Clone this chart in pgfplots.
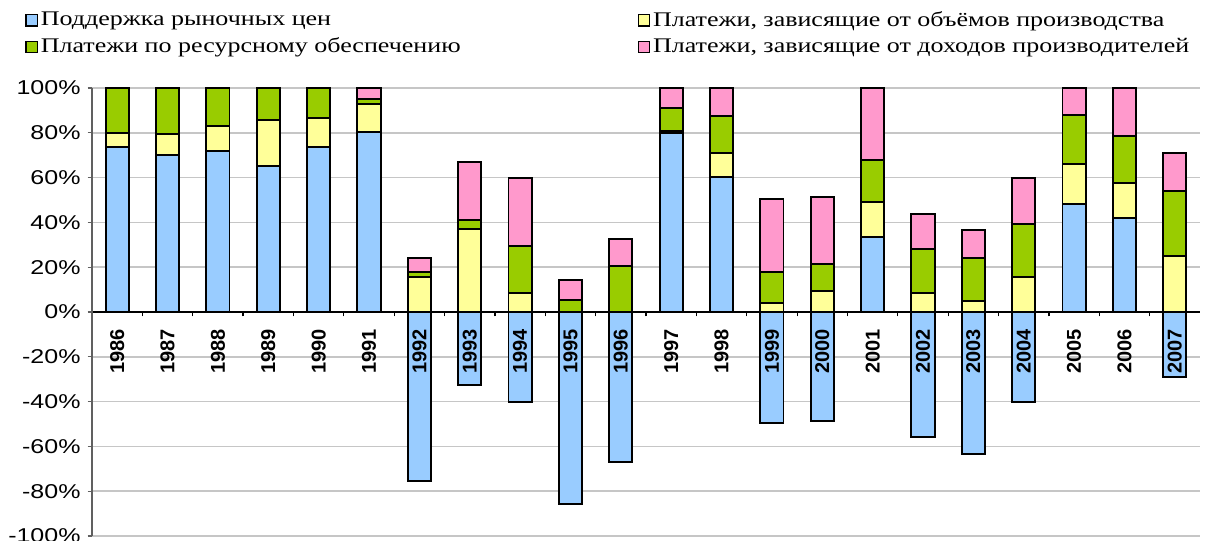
\documentclass[border=0pt]{standalone}
\usepackage{fontspec}
\setmainfont{Liberation Sans}
\newfontfamily\legfont{Liberation Serif}[FakeStretch=1.25]
\newfontfamily\tickfont{Liberation Sans}[FakeStretch=1.25]
\usepackage{pgfplots}
\usepackage{pgfplotstable}
\pgfplotsset{compat=1.18}

\definecolor{cblue}{HTML}{99CCFF}
\definecolor{cyellow}{HTML}{FFFF99}
\definecolor{cgreen}{HTML}{99CC00}
\definecolor{cpink}{HTML}{FF99CC}

% shares, %; blue split into positive and negative parts
\pgfplotstableread{
idx year bluep bluen yellow green pink
0  1986 73.7   0    6.3  20.0  0
1  1987 69.9   0    9.4  20.7  0
2  1988 71.7   0   11.3  17.0  0
3  1989 65.3   0   20.3  14.4  0
4  1990 73.7   0   12.8  13.5  0
5  1991 80.2   0   12.5   2.3  5.0
6  1992  0   -75.4 15.8   2.2  6.3
7  1993  0   -32.6 37.2   3.9 25.9
8  1994  0   -40.0  8.5  21.1 30.2
9  1995  0   -85.7  0     5.4  8.7
10 1996  0   -67.1  0    20.4 12.3
11 1997 80.0   0    0.8  10.1  9.1
12 1998 60.4   0   10.4  16.8 12.4
13 1999  0   -49.7  3.9  13.8 32.7
14 2000  0   -48.8  9.4  11.9 30.0
15 2001 33.5   0   15.6  18.8 32.1
16 2002  0   -55.8  8.3  19.7 15.8
17 2003  0   -63.5  4.8  19.5 12.3
18 2004  0   -40.3 15.8  23.3 20.9
19 2005 48.4   0   17.8  21.7 12.1
20 2006 42.1   0   15.6  20.9 21.4
21 2007  0   -28.9 25.1  28.9 16.8
}\support

\pgfplotsset{
  frame/.style={
    at={(46pt,2pt)}, anchor=south west,
    scale only axis, width=554pt, height=224pt,
    xmin=-0.5, xmax=21.5, ymin=-100, ymax=100,
  },
}

\begin{document}
\begin{tikzpicture}
\useasboundingbox (0,0) rectangle (604pt,270pt);

\begin{axis}[
  frame,
  ybar stacked, bar width=0.46,
  axis y line*=left, axis x line*=middle,
  x axis line style={black, line width=0.8pt},
  y axis line style={gray!75!black, line width=0.8pt},
  tick align=outside,
  major tick length=2.2pt,
  xtick={0.5,1.5,...,20.5}, xticklabels={,,},
  xtick style={black, line width=0.6pt},
  ytick={-100,-80,...,100},
  ytick style={gray!75!black, line width=0.6pt},
  ymajorgrids, grid style={gray!45, line width=0.8pt},
  /pgf/number format/assume math mode=true,
  yticklabel={\pgfmathprintnumber{\tick}\%},
  yticklabel style={font=\tickfont\fontsize{10}{12}\selectfont, black},
  every axis plot/.append style={draw=black, line width=0.95pt},
  legend columns=2,
  legend cell align=left,
  legend image code/.code={\draw[#1, line width=0.6pt] (0pt,-2.8pt) rectangle (5.6pt,2.8pt);},
  legend style={draw=none, fill=none, inner sep=0pt,
    nodes={inner sep=1.5pt},
    at={(axis description cs:0,1)}, anchor=north west,
    xshift=-33.5pt, yshift=40pt,
    font=\legfont\fontsize{10.4}{12}\selectfont,
    row sep=1.3pt,
    /tikz/every even column/.append style={column sep=87pt}},
]
\addplot[fill=cblue] table[x=idx, y=bluep] {\support};
\addplot[fill=cyellow] table[x=idx, y=yellow] {\support};
\addplot[fill=cgreen] table[x=idx, y=green] {\support};
\addplot[fill=cpink] table[x=idx, y=pink] {\support};
\legend{Поддержка рыночных цен,
  {Платежи, зависящие от объёмов производства},
  Платежи по ресурсному обеспечению,
  {Платежи, зависящие от доходов производителей}}
\end{axis}

% negative parts of market price support
\begin{axis}[frame, hide axis, ybar, bar width=0.46]
\addplot[fill=cblue, draw=black, line width=0.95pt] table[x=idx, y=bluen] {\support};
\end{axis}

% year labels on top of the bars (axis set 8.5pt lower)
\begin{axis}[
  frame, at={(46pt,-6.5pt)},
  axis x line*=middle, axis y line=none,
  x axis line style={draw=none},
  major tick length=0pt,
  xtick={0,...,21},
  xticklabels={1986,1987,1988,1989,1990,1991,1992,1993,1994,1995,1996,
    1997,1998,1999,2000,2001,2002,2003,2004,2005,2006,2007},
  xticklabel style={rotate=90, anchor=east, inner sep=0pt,
    font=\bfseries\fontsize{10}{12}\selectfont},
]
\end{axis}
\end{tikzpicture}
\end{document}
